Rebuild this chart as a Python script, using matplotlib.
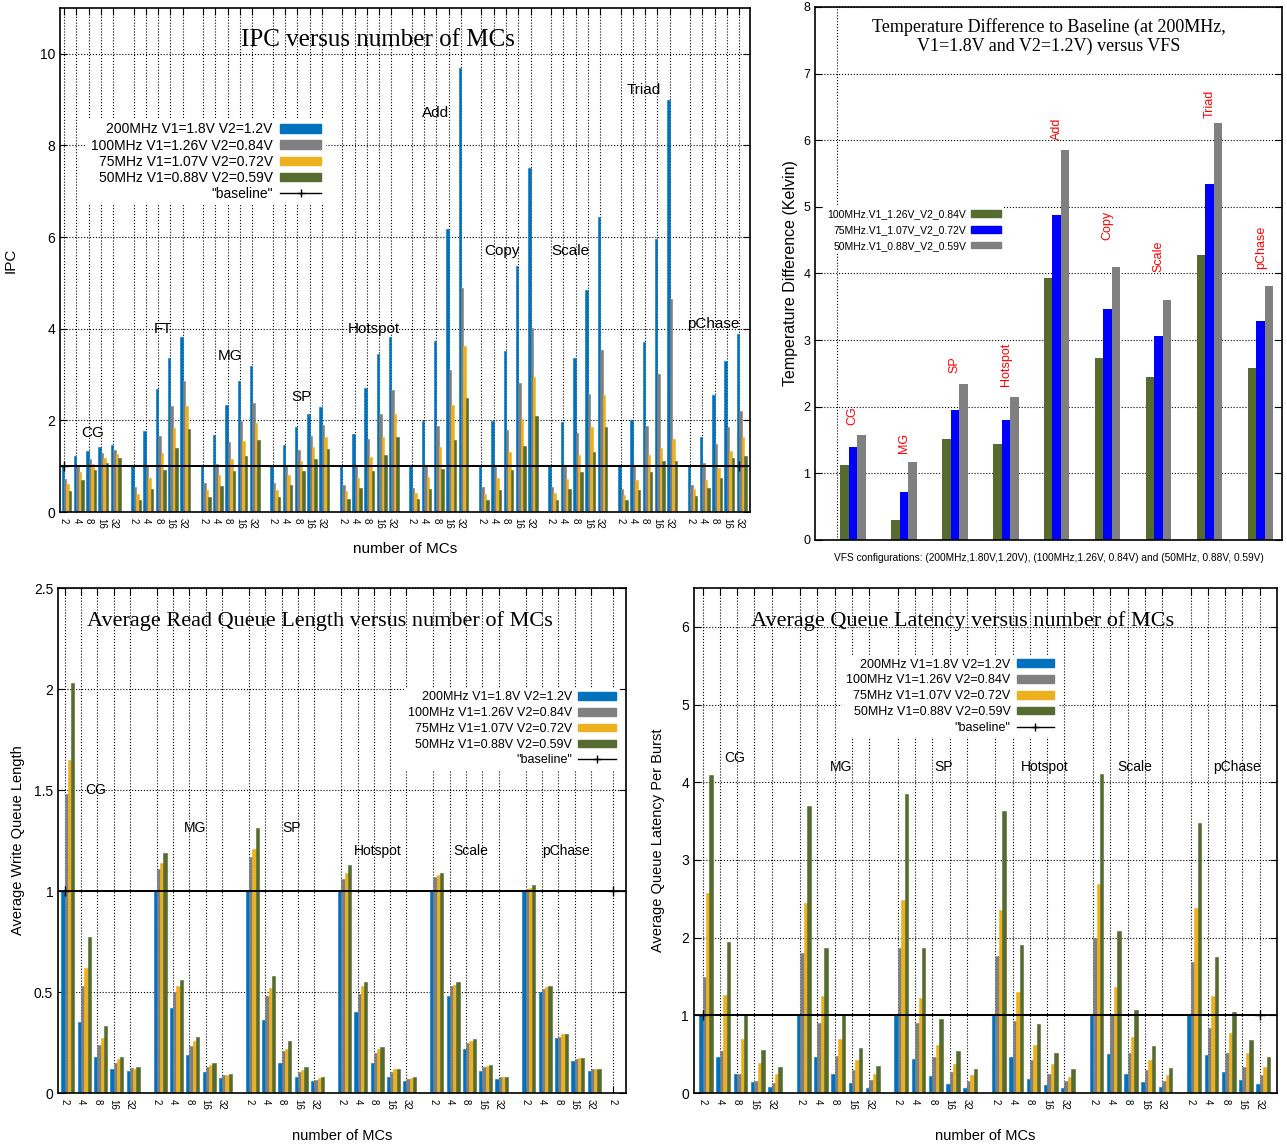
import numpy as np
import matplotlib.pyplot as plt
from matplotlib.patches import Patch
from matplotlib.lines import Line2D

plt.rcParams['font.family'] = ['Liberation Sans', 'DejaVu Sans']

# colours of the four VFS configurations
c_blue = '#0072bd'
c_gray = '#808080'
c_yel = '#edb120'
c_grn = '#556b2f'

mcs = ['2', '4', '8', '16', '32']
vfs_labels = ['200MHz V1=1.8V V2=1.2V', '100MHz V1=1.26V V2=0.84V',
              '75MHz V1=1.07V V2=0.72V', '50MHz V1=0.88V V2=0.59V']

# ---- IPC versus number of MCs (rows = apps, cols = 2,4,8,16,32 MCs)
ipc_apps = ['CG', 'FT', 'MG', 'SP', 'Hotspot', 'Add', 'Copy', 'Scale', 'Triad', 'pChase']
ipc_200 = [[1.0, 1.22, 1.34, 1.41, 1.46], [1.0, 1.77, 2.68, 3.36, 3.82], [1.0, 1.68, 2.34, 2.85, 3.19],
           [1.0, 1.47, 1.86, 2.14, 2.30], [1.0, 1.70, 2.71, 3.44, 3.82], [1.0, 1.99, 3.74, 6.18, 9.68],
           [1.0, 1.99, 3.51, 5.38, 7.51], [1.0, 1.96, 3.37, 4.85, 6.44], [1.0, 2.00, 3.72, 5.96, 8.99],
           [1.0, 1.63, 2.56, 3.29, 3.88]]
ipc_100 = [[0.73, 1.0, 1.16, 1.28, 1.36], [0.54, 1.0, 1.66, 2.32, 2.86], [0.63, 1.04, 1.53, 1.98, 2.39],
           [0.63, 1.0, 1.35, 1.67, 1.89], [0.59, 1.0, 1.59, 2.14, 2.66], [0.53, 1.0, 1.88, 3.11, 4.90],
           [0.54, 1.0, 1.79, 2.82, 4.02], [0.54, 1.0, 1.72, 2.58, 3.53], [0.51, 1.0, 1.87, 3.02, 4.65],
           [0.60, 1.06, 1.49, 1.86, 2.20]]
ipc_75 = [[0.62, 0.87, 1.05, 1.19, 1.27], [0.40, 0.75, 1.29, 1.84, 2.32], [0.48, 0.80, 1.16, 1.55, 1.95],
          [0.48, 0.80, 1.11, 1.41, 1.64], [0.45, 0.75, 1.20, 1.63, 2.13], [0.41, 0.76, 1.42, 2.33, 3.62],
          [0.40, 0.75, 1.31, 2.04, 2.95], [0.41, 0.73, 1.24, 1.86, 2.56], [0.38, 0.69, 1.25, 1.39, 1.59],
          [0.50, 0.71, 0.96, 1.33, 1.63]]
ipc_50 = [[0.46, 0.70, 0.91, 1.07, 1.18], [0.27, 0.51, 0.91, 1.40, 1.82], [0.33, 0.56, 0.89, 1.22, 1.57],
          [0.32, 0.59, 0.89, 1.16, 1.38], [0.29, 0.53, 0.89, 1.25, 1.63], [0.28, 0.51, 0.95, 1.57, 2.48],
          [0.27, 0.49, 0.91, 1.44, 2.09], [0.27, 0.50, 0.87, 1.30, 1.85], [0.26, 0.49, 0.87, 1.11, 1.11],
          [0.34, 0.53, 0.74, 1.18, 1.23]]

# ---- temperature difference to baseline
temp_apps = ['CG', 'MG', 'SP', 'Hotspot', 'Add', 'Copy', 'Scale', 'Triad', 'pChase']
temp_100 = [1.13, 0.30, 1.51, 1.44, 3.93, 2.73, 2.44, 4.27, 2.58]
temp_75 = [1.39, 0.72, 1.95, 1.80, 4.88, 3.46, 3.06, 5.35, 3.28]
temp_50 = [1.57, 1.17, 2.34, 2.14, 5.85, 4.10, 3.60, 6.26, 3.81]
temp_labels = ['100MHz.V1_1.26V_V2_0.84V', '75MHz.V1_1.07V_V2_0.72V', '50MHz.V1_0.88V_V2_0.59V']

# ---- average read queue length
q_apps = ['CG', 'MG', 'SP', 'Hotspot', 'Scale', 'pChase']
rq_200 = [[1.0, 0.35, 0.18, 0.12, 0.11], [1.0, 0.42, 0.19, 0.105, 0.075], [1.0, 0.36, 0.15, 0.08, 0.06],
          [1.0, 0.40, 0.15, 0.08, 0.06], [1.0, 0.48, 0.22, 0.11, 0.07], [1.0, 0.50, 0.27, 0.16, 0.11]]
rq_100 = [[1.48, 0.53, 0.24, 0.15, 0.125], [1.11, 0.50, 0.235, 0.13, 0.087], [1.17, 0.48, 0.21, 0.105, 0.066],
          [1.06, 0.49, 0.20, 0.105, 0.07], [1.07, 0.53, 0.25, 0.13, 0.077], [1.01, 0.515, 0.278, 0.167, 0.117]]
rq_75 = [[1.65, 0.62, 0.27, 0.17, 0.12], [1.14, 0.53, 0.26, 0.14, 0.09], [1.21, 0.52, 0.22, 0.115, 0.073],
         [1.09, 0.53, 0.22, 0.12, 0.075], [1.08, 0.535, 0.26, 0.135, 0.077], [1.015, 0.525, 0.29, 0.175, 0.12]]
rq_50 = [[2.03, 0.77, 0.33, 0.18, 0.13], [1.19, 0.56, 0.275, 0.15, 0.096], [1.31, 0.58, 0.26, 0.13, 0.078],
         [1.13, 0.55, 0.23, 0.12, 0.08], [1.09, 0.55, 0.265, 0.14, 0.08], [1.03, 0.53, 0.294, 0.175, 0.12]]

# ---- average queue latency per burst
lat_200 = [[1.0, 0.47, 0.24, 0.14, 0.08], [1.0, 0.47, 0.24, 0.13, 0.07], [1.0, 0.44, 0.22, 0.12, 0.07],
           [1.0, 0.46, 0.18, 0.10, 0.07], [1.0, 0.50, 0.25, 0.14, 0.08], [1.0, 0.49, 0.27, 0.17, 0.11]]
lat_100 = [[1.49, 0.54, 0.24, 0.15, 0.125], [1.80, 0.90, 0.48, 0.29, 0.17], [1.87, 0.90, 0.46, 0.27, 0.16],
           [1.77, 0.93, 0.43, 0.24, 0.16], [2.00, 1.00, 0.51, 0.30, 0.16], [1.69, 0.84, 0.51, 0.33, 0.23]]
lat_75 = [[2.57, 1.26, 0.69, 0.39, 0.24], [2.44, 1.25, 0.70, 0.42, 0.25], [2.49, 1.22, 0.62, 0.37, 0.23],
          [2.36, 1.30, 0.62, 0.37, 0.21], [2.69, 1.37, 0.72, 0.43, 0.23], [2.38, 1.25, 0.77, 0.51, 0.34]]
lat_50 = [[4.09, 1.94, 1.02, 0.56, 0.34], [3.69, 1.87, 1.01, 0.58, 0.35], [3.85, 1.87, 0.95, 0.54, 0.31],
          [3.63, 1.91, 0.89, 0.52, 0.31], [4.11, 2.08, 1.07, 0.61, 0.32], [3.48, 1.75, 1.04, 0.68, 0.46]]

colors = [c_blue, c_gray, c_yel, c_grn]
stride = 5.66  # distance between application groups, in MC-slots
bw = 0.2


def style_axes(ax):
    for s in ax.spines.values():
        s.set_linewidth(1.2)
    ax.tick_params(direction='in', top=True, right=True, length=5, labelsize=10)
    ax.set_axisbelow(True)


def grouped(ax, apps, series, extra_tick=False):
    ticks = []
    for g in range(len(apps)):
        base = g * stride + np.arange(5)
        ticks += list(base)
        for j, vals in enumerate(series):
            ax.bar(base + (j - 0.5) * bw, vals[g], width=bw, color=colors[j],
                   edgecolor=colors[j], lw=0.4)
    labels = mcs * len(apps)
    if extra_tick:
        ticks.append(len(apps) * stride - 0.3)
        labels = labels + ['2']
    ax.set_xticks(ticks)
    ax.set_xticklabels(labels, rotation=-90, fontsize=7)
    ax.tick_params(axis='x', pad=4)
    ax.grid(True, ls=':', color='k', lw=0.8)
    ax.plot([ticks[0], ticks[-1]], [1, 1], color='k', lw=1.3, marker='+', ms=7, zorder=3)
    ax.axhline(1, color='k', lw=1.3, zorder=3)
    return ticks


def vfs_legend(ax, anchor, fs, spacing):
    handles = [Patch(color=c) for c in colors] + [Line2D([], [], color='k', marker='+', lw=1)]
    labs = vfs_labels + ['"baseline"']
    leg = ax.legend(handles, labs, loc='upper right', bbox_to_anchor=anchor, markerfirst=False,
                    fontsize=fs, frameon=True, framealpha=1, edgecolor='none', fancybox=False,
                    handlelength=3.0, handleheight=0.55, labelspacing=spacing, borderpad=0.3,
                    handletextpad=0.5)
    leg.get_frame().set_linewidth(0)
    return leg


fig = plt.figure(figsize=(12.87, 11.45), dpi=100)

# ---------------- top-left: IPC
ax1 = fig.add_axes([0.0466, 0.5528, 0.536, 0.4402])
style_axes(ax1)
grouped(ax1, ipc_apps, [ipc_200, ipc_100, ipc_75, ipc_50])
ax1.set_xlim(-0.33, 55.8)
ax1.set_ylim(0, 11)
ax1.set_yticks([0, 2, 4, 6, 8, 10])
ax1.set_ylabel('IPC', fontsize=11, labelpad=16)
ax1.set_xlabel('number of MCs', fontsize=11, labelpad=10)
ax1.text(0.461, 0.937, 'IPC versus number of MCs', transform=ax1.transAxes, ha='center', va='center',
         fontsize=18, family='Liberation Serif')
ipc_lab_x = [2.36, 2.39, 2.18, 2.37, 2.56, 1.9, 1.64, 1.58, 1.92, 1.86]
ipc_lab_y = [1.72, 4.0, 3.4, 2.5, 4.0, 8.7, 5.7, 5.7, 9.2, 4.1]
for g, name in enumerate(ipc_apps):
    ax1.text(g * stride + ipc_lab_x[g], ipc_lab_y[g], name, ha='center', va='center', fontsize=11, zorder=4)
vfs_legend(ax1, (0.395, 0.795), 10, 0.15)

# ---------------- top-right: temperature
ax2 = fig.add_axes([0.6333, 0.5284, 0.3629, 0.4655])
style_axes(ax2)
xt = np.arange(len(temp_apps))
tw = 1 / 6
ax2.bar(xt - tw, temp_100, width=tw, color=c_grn, lw=0)
ax2.bar(xt, temp_75, width=tw, color='#0000ff', lw=0)
ax2.bar(xt + tw, temp_50, width=tw, color=c_gray, lw=0)
ax2.set_xlim(-0.74, 8.42)
ax2.set_ylim(0, 8)
ax2.set_xticks([-0.31])
ax2.set_xticklabels([''])
ax2.tick_params(axis='x', length=0)
ax2.grid(True, ls=':', color='k', lw=0.8)
ax2.tick_params(axis='y', labelsize=9)
ax2.set_ylabel('Temperature Difference (Kelvin)', fontsize=11.5, labelpad=4)
ax2.set_xlabel('VFS configurations: (200MHz,1.80V,1.20V), (100MHz,1.26V, 0.84V) and (50MHz, 0.88V, 0.59V)',
               fontsize=7.3, labelpad=6)
ax2.text(0.5, 0.944, 'Temperature Difference to Baseline (at 200MHz,\nV1=1.8V and V2=1.2V) versus VFS',
         transform=ax2.transAxes, ha='center', va='center', fontsize=13, family='Liberation Serif',
         linespacing=1.15)
temp_lab_y = [1.72, 1.31, 2.51, 2.31, 6.01, 4.51, 4.02, 6.33, 4.06]
for i, name in enumerate(temp_apps):
    ax2.text(xt[i], temp_lab_y[i], name, color='red', rotation=90, ha='center', va='bottom', fontsize=9)
leg2 = ax2.legend([Patch(color=c_grn), Patch(color='#0000ff'), Patch(color=c_gray)], temp_labels,
                  loc='upper right', bbox_to_anchor=(0.415, 0.636), markerfirst=False,
                  frameon=True, framealpha=1, fancybox=False, handlelength=2.8, handleheight=0.6,
                  labelspacing=0.55, borderpad=0.3, handletextpad=0.5, prop={'size': 7.5})
leg2.get_frame().set_linewidth(0)

# ---------------- bottom-left: read queue length
ax3 = fig.add_axes([0.0451, 0.0454, 0.4413, 0.441])
style_axes(ax3)
grouped(ax3, q_apps, [rq_200, rq_100, rq_75, rq_50], extra_tick=True)
ax3.set_xlim(-0.41, 34.46)
ax3.set_ylim(0, 2.5)
ax3.set_yticks([0, 0.5, 1, 1.5, 2, 2.5])
ax3.set_yticklabels(['0', '0.5', '1', '1.5', '2', '2.5'])
ax3.set_ylabel('Average Write Queue Length', fontsize=10.5, labelpad=6)
ax3.set_xlabel('number of MCs', fontsize=10.5, labelpad=14)
ax3.text(0.461, 0.935, 'Average Read Queue Length versus number of MCs', transform=ax3.transAxes,
         ha='center', va='center', fontsize=16, family='Liberation Serif')
rq_lab_x = [1.9, 2.34, 2.58, 2.22, 2.26, 2.5]
rq_lab_y = [1.5, 1.31, 1.31, 1.2, 1.2, 1.2]
for g, name in enumerate(q_apps):
    ax3.text(g * stride + rq_lab_x[g], rq_lab_y[g], name, ha='center', va='center', fontsize=10, zorder=4)
vfs_legend(ax3, (1.0, 0.815), 9, 0.3)

# ---------------- bottom-right: queue latency
ax4 = fig.add_axes([0.5392, 0.0454, 0.453, 0.441])
style_axes(ax4)
grouped(ax4, q_apps, [lat_200, lat_100, lat_75, lat_50])
ax4.set_xlim(-0.5, 33.3)
ax4.set_ylim(0, 6.5)
ax4.set_yticks([0, 1, 2, 3, 4, 5, 6])
ax4.set_ylabel('Average Queue Latency Per Burst', fontsize=10.5, labelpad=12)
ax4.set_xlabel('number of MCs', fontsize=10.5, labelpad=14)
ax4.text(0.461, 0.935, 'Average Queue Latency versus number of MCs', transform=ax4.transAxes,
         ha='center', va='center', fontsize=16, family='Liberation Serif')
lat_lab_x = [1.87, 2.34, 2.68, 2.87, 2.44, 2.69]
lat_lab_y = [4.31, 4.2, 4.2, 4.2, 4.2, 4.2]
for g, name in enumerate(q_apps):
    ax4.text(g * stride + lat_lab_x[g], lat_lab_y[g], name, ha='center', va='center', fontsize=10, zorder=4)
vfs_legend(ax4, (0.635, 0.88), 9, 0.3)

fig.savefig('out.png', dpi=100)
